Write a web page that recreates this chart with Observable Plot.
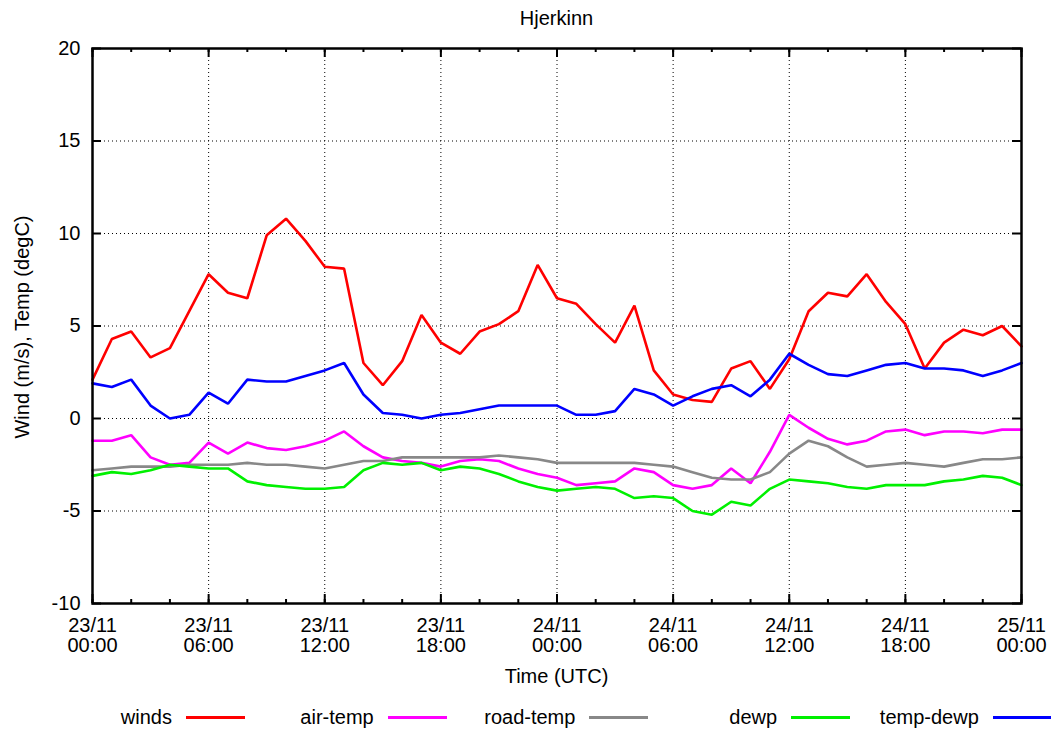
<!DOCTYPE html>
<html>
<head>
<meta charset="utf-8">
<script src="https://cdn.jsdelivr.net/npm/d3@7"></script>
<script src="https://cdn.jsdelivr.net/npm/@observablehq/plot@0.6"></script>
<style>
  body { margin: 0; background: #fff; }
  #wrap { position: relative; width: 1051px; height: 729px; font-family: "Liberation Sans", Arial, sans-serif; font-size: 20px; color: #000; }
  .abs { position: absolute; white-space: nowrap; line-height: 20px; }
  #wrap svg { position: absolute; left: 0; top: 0; }
</style>
</head>
<body>
<div id="wrap"></div>
<script>
// ---- Data (hourly, 23/11 00:00 to 25/11 00:00 UTC) ----
const title = "Hjerkinn";
const yLabel = "Wind (m/s), Temp (degC)";
const xLabel = "Time (UTC)";
const startUTC = "2015-11-23T00:00:00Z";
const endUTC = "2015-11-25T00:00:00Z";

const winds    = [2.1,4.3,4.7,3.3,3.8,5.8,7.8,6.8,6.5,9.9,10.8,9.6,8.2,8.1,3.0,1.8,3.1,5.6,4.1,3.5,4.7,5.1,5.8,8.3,6.5,6.2,5.1,4.1,6.1,2.6,1.3,1.0,0.9,2.7,3.1,1.6,3.2,5.8,6.8,6.6,7.8,6.3,5.1,2.7,4.1,4.8,4.5,5.0,3.9];
const airTemp  = [-1.2,-1.2,-0.9,-2.1,-2.5,-2.4,-1.3,-1.9,-1.3,-1.6,-1.7,-1.5,-1.2,-0.7,-1.5,-2.1,-2.3,-2.4,-2.6,-2.3,-2.2,-2.3,-2.7,-3.0,-3.2,-3.6,-3.5,-3.4,-2.7,-2.9,-3.6,-3.8,-3.6,-2.7,-3.5,-1.8,0.2,-0.5,-1.1,-1.4,-1.2,-0.7,-0.6,-0.9,-0.7,-0.7,-0.8,-0.6,-0.6];
const roadTemp = [-2.8,-2.7,-2.6,-2.6,-2.6,-2.5,-2.5,-2.5,-2.4,-2.5,-2.5,-2.6,-2.7,-2.5,-2.3,-2.3,-2.1,-2.1,-2.1,-2.1,-2.1,-2.0,-2.1,-2.2,-2.4,-2.4,-2.4,-2.4,-2.4,-2.5,-2.6,-2.9,-3.2,-3.3,-3.3,-2.9,-1.9,-1.2,-1.5,-2.1,-2.6,-2.5,-2.4,-2.5,-2.6,-2.4,-2.2,-2.2,-2.1];
const dewp     = [-3.1,-2.9,-3.0,-2.8,-2.5,-2.6,-2.7,-2.7,-3.4,-3.6,-3.7,-3.8,-3.8,-3.7,-2.8,-2.4,-2.5,-2.4,-2.8,-2.6,-2.7,-3.0,-3.4,-3.7,-3.9,-3.8,-3.7,-3.8,-4.3,-4.2,-4.3,-5.0,-5.2,-4.5,-4.7,-3.8,-3.3,-3.4,-3.5,-3.7,-3.8,-3.6,-3.6,-3.6,-3.4,-3.3,-3.1,-3.2,-3.6];
const tempDewp = [1.9,1.7,2.1,0.7,0.0,0.2,1.4,0.8,2.1,2.0,2.0,2.3,2.6,3.0,1.3,0.3,0.2,0.0,0.2,0.3,0.5,0.7,0.7,0.7,0.7,0.2,0.2,0.4,1.6,1.3,0.7,1.2,1.6,1.8,1.2,2.1,3.5,2.9,2.4,2.3,2.6,2.9,3.0,2.7,2.7,2.6,2.3,2.6,3.0];

const seriesNames  = ["winds", "air-temp", "road-temp", "dewp", "temp-dewp"];
const seriesColors = ["#ff0000", "#ff00ff", "#888888", "#00f000", "#0000ff"];
const xTickLabels  = ["23/11\n00:00","23/11\n06:00","23/11\n12:00","23/11\n18:00","24/11\n00:00","24/11\n06:00","24/11\n12:00","24/11\n18:00","25/11\n00:00"];
const yTicks       = [-10, -5, 0, 5, 10, 15, 20];

// ---- Build ----
const t0 = new Date(startUTC), t1 = new Date(endUTC);
const times = d3.utcHour.range(t0, new Date(+t1 + 1));          // 49 hourly stamps
const majorTimes = d3.utcHour.every(6).range(t0, new Date(+t1 + 1));
const minorTimes = d3.utcHour.every(2).range(t0, new Date(+t1 + 1));
const allSeries = [winds, airTemp, roadTemp, dewp, tempDewp];
const rows = [];
allSeries.forEach((arr, s) => arr.forEach((v, i) => rows.push({series: seriesNames[s], time: times[i], value: v})));

const W = 1051, H = 729, mL = 92, mR = 30, mT = 48, mB = 126;
const innerW = W - mL - mR, innerH = H - mT - mB;
const labelFor = d => xTickLabels[majorTimes.findIndex(t => +t === +d)];

const chart = Plot.plot({
  width: W, height: H,
  marginLeft: mL, marginRight: mR, marginTop: mT, marginBottom: mB,
  style: {fontFamily: '"Liberation Sans", Arial, sans-serif', fontSize: "20px", background: "white", color: "black", overflow: "visible"},
  x: {type: "utc", domain: [t0, t1]},
  y: {domain: [-10, 20]},
  color: {domain: seriesNames, range: seriesColors},
  marks: [
    Plot.ruleX(majorTimes, {stroke: "black", strokeWidth: 1, strokeDasharray: "1,3"}),
    Plot.ruleY(yTicks, {stroke: "black", strokeWidth: 1, strokeDasharray: "1,3"}),
    Plot.tickX(majorTimes, {stroke: "black", strokeWidth: 2, insetTop: innerH - 9}),
    Plot.tickX(minorTimes, {stroke: "black", strokeWidth: 2, insetTop: innerH - 4}),
    Plot.tickX(majorTimes, {stroke: "black", strokeWidth: 2, insetBottom: innerH - 9}),
    Plot.tickX(minorTimes, {stroke: "black", strokeWidth: 2, insetBottom: innerH - 4}),
    Plot.tickY(yTicks, {stroke: "black", strokeWidth: 2, insetRight: innerW - 9}),
    Plot.tickY(yTicks, {stroke: "black", strokeWidth: 2, insetLeft: innerW - 9}),
    ...seriesNames.map(name => Plot.line(rows.filter(r => r.series === name), {x: "time", y: "value", stroke: "series", strokeWidth: 2.6, strokeLinejoin: "miter"})),
    Plot.frame({stroke: "black", strokeWidth: 2.5}),
    Plot.axisX({ticks: majorTimes, tickSize: 0, tickPadding: 14, tickFormat: labelFor, label: null, fontSize: 20}),
    Plot.axisY({ticks: yTicks, tickSize: 0, tickPadding: 12, tickFormat: d => String(d), label: null, fontSize: 20})
  ]
});

const wrap = document.getElementById("wrap");
wrap.appendChild(chart);

function addText(txt, css) {
  const d = document.createElement("div");
  d.className = "abs";
  d.textContent = txt;
  Object.assign(d.style, css);
  wrap.appendChild(d);
  return d;
}
// title
addText(title, {left: (mL + innerW / 2) + "px", top: "8px", transform: "translateX(-50%)"});
// x label
addText(xLabel, {left: (mL + innerW / 2) + "px", top: "666px", transform: "translateX(-50%)"});
// y label (rotated)
addText(yLabel, {left: "22px", top: "327px", transform: "translate(-50%,-50%) rotate(-90deg)"});
// legend
seriesNames.forEach((name, i) => {
  const end = 172 + 201.7 * i;
  addText(name, {left: (end - 200) + "px", width: "200px", textAlign: "right", top: "707px"});
  const ln = document.createElement("div");
  Object.assign(ln.style, {position: "absolute", left: (end + 14) + "px", top: "716px", width: "59px", height: "2.5px", background: seriesColors[i]});
  wrap.appendChild(ln);
});
</script>
</body>
</html>
